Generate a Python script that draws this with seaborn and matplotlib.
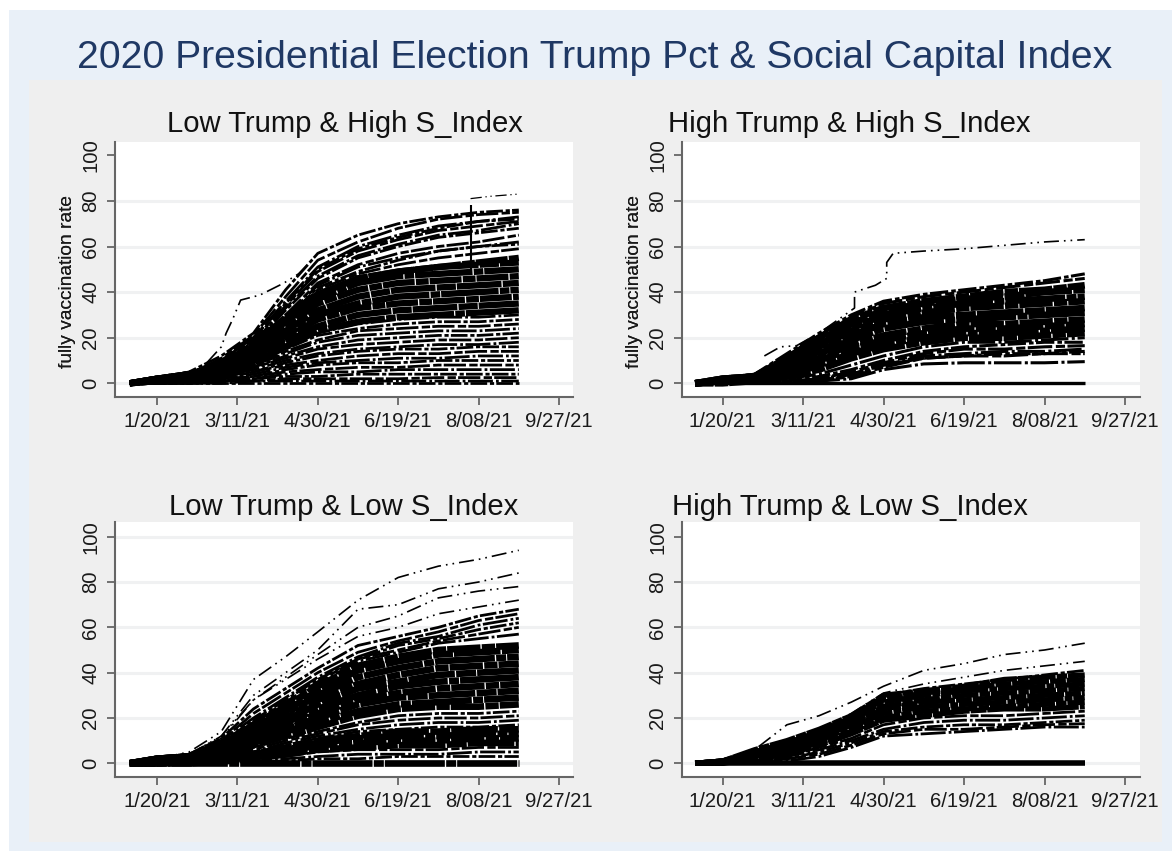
import matplotlib
matplotlib.use("Agg")
import pandas as pd
import matplotlib.pyplot as plt
from matplotlib.patches import Rectangle
import seaborn as sns

main_title = "2020 Presidential Election Trump Pct & Social Capital Index"
panel_titles = ["Low Trump & High S_Index", "High Trump & High S_Index",
                "Low Trump & Low S_Index", "High Trump & Low S_Index"]
y_label = "fully vaccination rate"
y_ticks = [0, 20, 40, 60, 80, 100]
x_tick_dates = ["2021-01-20", "2021-03-11", "2021-04-30", "2021-06-19", "2021-08-08", "2021-09-27"]
x_tick_labels = ["1/20/21", "3/11/21", "4/30/21", "6/19/21", "8/08/21", "9/27/21"]
knots = ["2021-01-03", "2021-01-20", "2021-02-09", "2021-03-01", "2021-03-21", "2021-04-10",
         "2021-04-30", "2021-05-25", "2021-06-19", "2021-07-14", "2021-08-08", "2021-09-02"]

# panel 1: low trump, high index
p1_core = [
    [0, 2, 4, 8, 17, 29, 39, 46, 49, 51, 53, 55],
    [0, 2, 4, 8, 16, 28, 39, 46, 49, 51, 52, 53],
    [0, 2, 4, 8, 15, 27, 37, 44, 47, 48, 49, 50],
    [0, 2, 4, 7, 14, 25, 35, 41, 44, 45, 46, 47],
    [0, 2, 3, 7, 13, 23, 32, 38, 41, 42, 43, 44],
    [0, 2, 3, 6, 12, 21, 30, 35, 38, 39, 40, 41],
    [0, 1, 3, 6, 11, 20, 28, 33, 35, 36, 37, 38],
    [0, 1, 3, 5, 10, 18, 25, 30, 32, 33, 34, 35],
    [0, 1, 2, 5, 9, 16, 23, 27, 29, 30, 31, 32],
]
p1_thin = [
    [0, 2, 5, 12, 22, 41, 57, 65, 70, 73, 75, 76],
    [0, 2, 4, 11, 21, 38, 54, 62, 68, 72, 74, 75],
    [0, 2, 4, 10, 20, 36, 51, 60, 65, 69, 71, 73],
    [0, 2, 4, 10, 20, 35, 50, 59, 64, 68, 71, 72],
    [0, 2, 4, 10, 19, 34, 49, 58, 63, 67, 69, 71],
    [0, 2, 4, 9, 18, 33, 47, 56, 61, 65, 67, 70],
    [0, 2, 4, 9, 18, 32, 46, 55, 60, 64, 66, 68],
    [0, 2, 4, 9, 17, 30, 44, 52, 57, 60, 62, 65],
    [0, 2, 4, 9, 17, 29, 43, 51, 55, 58, 60, 62],
    [0, 2, 4, 8, 17, 28, 42, 49, 54, 58, 60, 61],
    [0, 2, 4, 8, 16, 28, 41, 48, 52, 55, 57, 59],
    [0, 1, 2, 5, 9, 16, 22, 26, 28, 29, 29, 30],
    [0, 1, 2, 4, 9, 15, 21, 24, 26, 27, 27, 28],
    [0, 1, 2, 4, 8, 14, 19, 23, 24, 25, 25, 26],
    [0, 1, 2, 4, 8, 13, 18, 21, 22, 23, 23, 24],
    [0, 1, 2, 3, 7, 12, 16, 19, 20, 21, 21, 22],
    [0, 1, 2, 3, 7, 11, 15, 17, 18, 19, 19, 20],
    [0, 1, 2, 3, 6, 10, 13, 15, 16, 17, 17, 18],
    [0, 1, 1, 3, 5, 9, 12, 14, 15, 15, 16, 16],
    [0, 1, 1, 2, 5, 8, 10, 12, 13, 13, 14, 14],
    [0, 1, 1, 2, 4, 7, 9, 10, 11, 11, 12, 12],
    [0, 0, 1, 2, 3, 6, 8, 9, 9, 10, 10, 10],
    [0, 0, 1, 1, 3, 5, 6, 7, 7, 8, 8, 8],
    [0, 0, 1, 1, 2, 4, 5, 5, 6, 6, 6, 6],
    [0, 0, 0, 1, 2, 3, 3, 4, 4, 4, 4, 4],
    [0, 0, 0, 1, 1, 2, 2, 2, 2, 2.5, 2.5, 2.5],
    [0, 0, 0, 0, 1, 1, 1, 1, 1, 1, 1, 1],
    [0, 0, 0, 0, 0, 0, 0, 0, 0, 0, 0, 0],
]
p1_outlier_dates = ["2021-02-20", "2021-03-01", "2021-03-04", "2021-03-08", "2021-03-13", "2021-03-25", "2021-04-09", "2021-04-18", "2021-04-28"]
p1_outlier = [9, 16, 22, 28, 36.5, 38.7, 44, 48, 55]
p1_top_dates = ["2021-08-03", "2021-08-15", "2021-09-02"]
p1_top = [81, 82, 83]
p1_spike_dates = ["2021-08-03", "2021-08-03"]
p1_spike = [50, 78]

# panel 2: high trump, high index
p2_core = [
    [0, 2, 3, 11, 20, 28, 33, 36, 38, 40, 41, 43],
    [0, 2, 3, 10, 19, 26, 32, 35, 37, 38, 40, 41],
    [0, 2, 3, 9, 17, 24, 30, 33, 35, 36, 37, 38],
    [0, 1, 3, 8, 16, 23, 28, 31, 33, 34, 35, 36],
    [0, 1, 2, 7, 14, 21, 26, 29, 30, 31, 32, 33],
    [0, 1, 2, 6, 13, 19, 24, 27, 28, 29, 30, 31],
    [0, 1, 2, 5, 11, 17, 21, 24, 26, 26, 27, 28],
    [0, 1, 2, 4, 10, 15, 19, 22, 24, 24, 25, 26],
    [0, 1, 1, 3, 8, 13, 17, 20, 22, 22, 23, 24],
    [0, 0, 1, 3, 6, 11, 15, 18, 20, 20, 21, 22],
]
p2_thin = [
    [0, 2, 4, 13, 22, 30, 36, 39, 41, 43, 45, 48],
    [0, 2, 4, 12, 21, 29, 35, 38, 40, 42, 44, 46],
    [0, 0, 1, 2, 4, 8, 12, 16, 18, 18, 19, 20],
    [0, 0, 0, 1, 3, 6, 10, 14, 16, 17, 18, 18],
    [0, 0, 0, 1, 2, 5, 9, 13, 15, 15, 16, 16.5],
    [0, 0, 0, 0, 2, 4, 8, 12, 13, 14, 14, 15],
    [0, 0, 0, 0, 1, 4, 8, 11, 12, 13, 13, 14],
    [0, 0, 0, 0, 1, 3, 7, 11, 12, 12, 13, 13],
    [0, 0, 0, 0, 1, 2, 6, 8.5, 9, 9, 9, 9.5],
]
p2_zero = [0, 0, 0, 0, 0, 0, 0, 0, 0, 0, 0, 0]
p2_outlier_dates = ["2021-02-15", "2021-02-25", "2021-03-07", "2021-03-21", "2021-04-12", "2021-04-12", "2021-04-25", "2021-05-02", "2021-05-02", "2021-05-06", "2021-05-25", "2021-06-19", "2021-07-14", "2021-08-08", "2021-09-02"]
p2_outlier = [12, 16, 16.5, 22, 33, 40, 43, 46, 53, 57, 58, 59, 60.5, 62, 63]

# panel 3: low trump, low index
p3_core = [
    [0, 2, 3, 8, 17, 25, 34, 43, 47, 50, 51, 52],
    [0, 2, 3, 7, 16, 23, 32, 41, 45, 48, 49, 50],
    [0, 2, 3, 7, 15, 22, 30, 38, 42, 45, 46, 47],
    [0, 2, 3, 6, 14, 20, 28, 35, 39, 42, 43, 44],
    [0, 2, 3, 6, 13, 19, 26, 33, 36, 39, 40, 41],
    [0, 1, 2, 5, 12, 18, 24, 30, 34, 36, 37, 38],
    [0, 1, 2, 5, 11, 16, 22, 28, 31, 33, 34, 35],
    [0, 1, 2, 4, 10, 15, 20, 26, 29, 30, 31, 32],
    [0, 1, 2, 4, 9, 14, 18, 23, 26, 27, 28, 29],
    [0, 1, 2, 3, 8, 12, 16, 21, 24, 25, 25, 26],
    [0, 0, 1, 2, 4, 7, 10, 12, 14, 14, 15, 15],
    [0, 0, 1, 2, 4, 6, 9, 11, 12, 12, 13, 13],
    [0, 0, 1, 1, 3, 5, 8, 9, 10, 10, 11, 11],
    [0, 0, 0, 1, 2, 4, 6, 7, 8, 8, 9, 9],
    [0, 0, 0, 0, 0, 0, 0, 0, 0, 0, 0, 0],
]
p3_top = [
    [0, 2, 5, 14, 37, 47, 58, 72, 82, 87, 90, 94],
    [0, 2, 4, 12, 30, 40, 50, 68, 70, 77, 80, 84],
    [0, 2, 4, 12, 28, 38, 48, 60, 65, 73, 76, 78],
    [0, 2, 4, 11, 28, 37, 46, 56, 60, 66, 69, 72],
]
p3_thin = [
    [0, 2, 4, 11, 24, 33, 42, 52, 56, 60, 65, 68],
    [0, 2, 4, 10, 22, 31, 40, 49, 54, 58, 63, 66],
    [0, 2, 4, 10, 20, 29, 38, 47, 53, 56, 61, 64],
    [0, 2, 4, 9, 19, 28, 37, 46, 52, 55, 59, 62],
    [0, 2, 4, 9, 18, 27, 36, 46, 50, 54, 57, 60],
    [0, 2, 3, 8, 18, 26, 35, 45, 49, 53, 55, 57],
    [0, 1, 2, 3, 7, 11, 14, 18, 21, 22, 22, 23],
    [0, 1, 1, 3, 6, 10, 13, 17, 19, 20, 20, 21],
    [0, 1, 1, 2, 5, 9, 12, 15, 17, 18, 18, 19],
    [0, 0, 1, 2, 5, 8, 11, 14, 15, 16, 16, 17],
    [0, 0, 0, 1, 2, 3, 5, 6, 6, 6, 7, 7],
    [0, 0, 0, 0, 1, 2, 3, 4, 4, 4, 5, 5],
    [0, 0, 0, 0, 1, 1, 2, 2, 3, 3, 3, 3],
]

# panel 4: high trump, low index
p4_core = [
    [0, 1, 6, 10, 15, 21, 30, 32, 34, 37, 38, 39],
    [0, 1, 5, 9, 14, 20, 28, 31, 33, 35, 36, 37],
    [0, 1, 5, 9, 13, 19, 27, 30, 32, 33, 34, 35],
    [0, 1, 4, 8, 12, 18, 25, 28, 30, 31, 32, 33],
    [0, 1, 4, 7, 11, 17, 24, 27, 28, 29, 30, 31],
    [0, 1, 3, 6, 10, 16, 22, 25, 26, 27, 28, 29],
    [0, 0, 3, 5, 9, 14, 20, 23, 24, 25, 26, 27],
    [0, 0, 2, 4, 8, 13, 19, 21, 23, 24, 24, 25],
]
p4_top = [
    [0, 1, 6, 17, 21, 27, 34, 41, 44, 48, 50, 53],
    [0, 1, 5, 9, 15, 22, 31, 35, 38, 41, 43, 45],
]
p4_thin = [
    [0, 1, 5, 9, 14, 21, 30, 33, 35, 37, 39, 41],
    [0, 0, 2, 3, 7, 11, 17, 20, 21, 21, 22, 23],
    [0, 0, 1, 3, 6, 10, 15, 18, 19, 19, 20, 21],
    [0, 0, 1, 2, 5, 9, 14, 16, 17, 17, 18, 19],
    [0, 0, 1, 2, 4, 8, 13, 15, 15, 16, 17, 17.5],
    [0, 0, 0, 1, 3, 7, 12, 13, 14, 15, 16, 16],
]
p4_zero = [0, 0, 0, 0, 0, 0, 0, 0, 0, 0, 0, 0]

W, H = 1172, 851
CORE_DASH = [(5, 0.2, 2, 0.15), (3, 0.15, 7, 0.2), (9, 0.2, 1.5, 0.15)]
THIN_DASH = [(6, 1, 1.5, 0.8), (3, 0.8, 8, 1.2), (9, 1.1, 1, 0.9)]
TOP_DASH = [(9, 3, 1, 3, 1, 3)]


def draw(ax, curves, dates, lw, dashes=None):
    x = [pd.Timestamp(d) for d in dates]
    for i, vals in enumerate(curves):
        ls = "-" if dashes is None else (i * 2.7, dashes[i % len(dashes)])
        sns.lineplot(x=x, y=vals, estimator=None, sort=False, color="black", linewidth=lw,
                     linestyle=ls, legend=False, ax=ax)


def make_axes(fig, left, right, top, bottom, y0, y100, tick0, tick1):
    ax = fig.add_axes([left / W, 1 - bottom / H, (right - left) / W, (bottom - top) / H])
    ax.set_facecolor("white")
    ppu = (y0 - y100) / 100
    ax.set_ylim((y0 - bottom) / ppu, (y0 - top) / ppu)
    ppd = (tick1 - tick0) / 250
    start = pd.Timestamp(x_tick_dates[0])
    ax.set_xlim(start + pd.Timedelta(days=(left - tick0) / ppd), start + pd.Timedelta(days=(right - tick0) / ppd))
    return ax


def finish(ax, idx, left, right, top, bottom, title_x, title_y):
    ax.set_yticks(y_ticks)
    ax.set_xticks([pd.Timestamp(d) for d in x_tick_dates])
    ax.set_xticklabels(x_tick_labels, fontsize=14.6, color="#1a1a1a")
    ax.set_yticklabels([str(v) for v in y_ticks], rotation=90, va="center", fontsize=14.6, color="#1a1a1a")
    ax.tick_params(axis="both", length=6, width=1.3, color="#666666", pad=4.5, left=True, bottom=True)
    ax.grid(axis="y", color="#F0F1F2", linewidth=2.2)
    ax.grid(axis="x", visible=False)
    if idx != 2:
        ax.get_ygridlines()[-1].set_visible(False)
    ax.set_axisbelow(True)
    ax.set_xlabel("")
    ax.set_ylabel(y_label, fontsize=13.8, color="#1a1a1a")
    ax.yaxis.set_label_coords(-39 / (right - left), (bottom - 281) / (bottom - top))
    sns.despine(ax=ax)
    for side in ["left", "bottom"]:
        ax.spines[side].set_color("#666666")
        ax.spines[side].set_linewidth(1.5)
    ax.figure.text(title_x / W, 1 - title_y / H, panel_titles[idx], ha="center", va="center", fontsize=21.1, color="#111111")


sns.set_theme(style="white")
plt.rcParams["font.family"] = ["Liberation Sans", "DejaVu Sans"]
plt.rcParams["lines.solid_capstyle"] = "butt"
plt.rcParams["lines.dash_capstyle"] = "butt"

fig = plt.figure(figsize=(W / 100, H / 100), dpi=100, facecolor="white")
fig.patches.append(Rectangle((9 / W, 0), 1 - 9 / W, 1 - 10 / H, transform=fig.transFigure, facecolor="#E9F0F8", edgecolor="none", zorder=-2))
fig.patches.append(Rectangle((29 / W, 1 - 842 / H), (1162 - 29) / W, (842 - 80) / H, transform=fig.transFigure, facecolor="#EFEFEF", edgecolor="none", zorder=-1))
fig.text(595 / W, 1 - 58 / H, main_title, ha="center", va="center", fontsize=28.2, color="#1F3864")

ax1 = make_axes(fig, 115, 573, 142, 397, 383.3, 155.3, 157, 559)
draw(ax1, p1_thin, knots, 2.0, THIN_DASH)
draw(ax1, p1_core, knots, 4.6, CORE_DASH)
draw(ax1, [p1_outlier], p1_outlier_dates, 1.2, TOP_DASH)
draw(ax1, [p1_top], p1_top_dates, 0.9, TOP_DASH)
draw(ax1, [p1_spike], p1_spike_dates, 1.5)
finish(ax1, 0, 115, 573, 142, 397, 344.5, 124)

ax2 = make_axes(fig, 682, 1140, 142, 397, 383.3, 155.3, 722.5, 1125)
draw(ax2, p2_thin, knots, 2.2, THIN_DASH)
draw(ax2, p2_core, knots, 4.8, CORE_DASH)
draw(ax2, [p2_zero], knots, 2.4)
draw(ax2, [p2_outlier], p2_outlier_dates, 1.2, TOP_DASH)
finish(ax2, 1, 682, 1140, 142, 397, 849.5, 124)

ax3 = make_axes(fig, 115, 573, 522, 777, 763.3, 536.7, 157, 559)
draw(ax3, p3_top, knots, 1.2, TOP_DASH)
draw(ax3, p3_thin, knots, 2.0, THIN_DASH)
draw(ax3, p3_core, knots, 4.8, CORE_DASH)
finish(ax3, 2, 115, 573, 522, 777, 344, 507)

ax4 = make_axes(fig, 682, 1140, 522, 777, 763.3, 536.7, 722.5, 1125)
draw(ax4, p4_top, knots, 1.2, TOP_DASH)
draw(ax4, p4_thin, knots, 2, THIN_DASH)
draw(ax4, p4_core, knots, 3.8, CORE_DASH)
draw(ax4, [p4_zero], knots, 4)
finish(ax4, 3, 682, 1140, 522, 777, 850, 507)

fig.savefig("out.png", dpi=100)
